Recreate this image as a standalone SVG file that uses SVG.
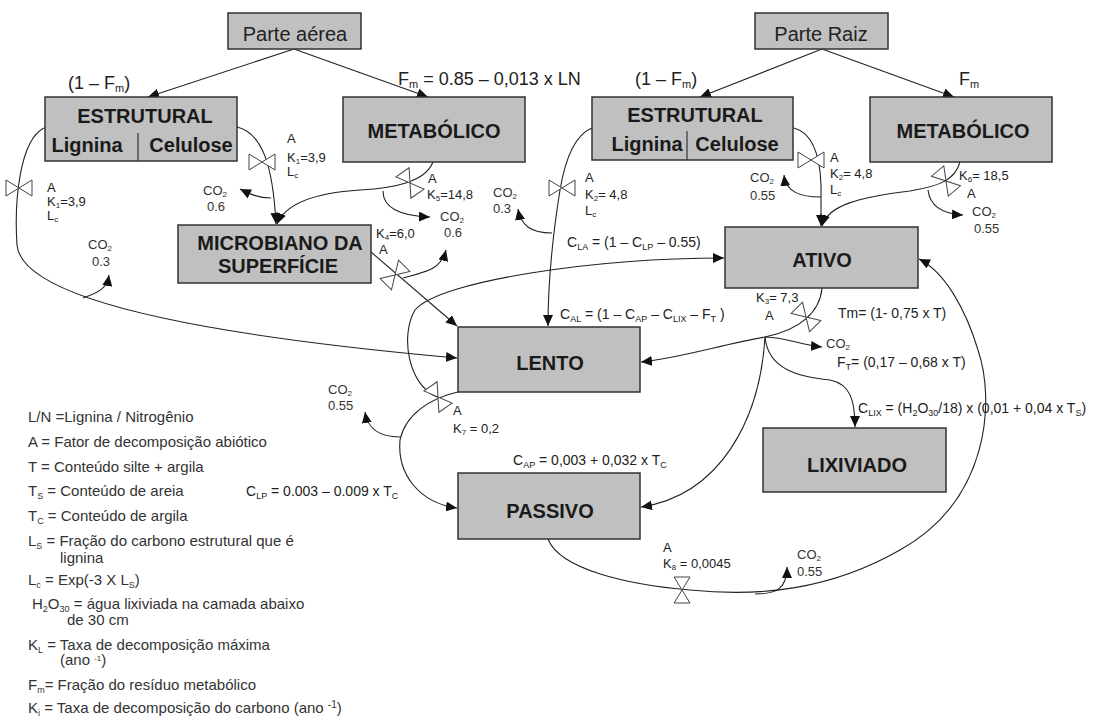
<svg xmlns="http://www.w3.org/2000/svg" xmlns:xlink="http://www.w3.org/1999/xlink" width="1115" height="727" viewBox="0 0 1115 727">
<style>
.box{fill:#c0c0c0;stroke:#333;stroke-width:1.5}
.ttl{font-family:"Liberation Sans",Arial,sans-serif;font-weight:bold;font-size:20px;fill:#1a1a1a;text-anchor:middle}
.src{font-family:"Liberation Sans",Arial,sans-serif;font-size:20px;fill:#222;text-anchor:middle}
.lbl{font-family:"Liberation Sans",Arial,sans-serif;font-size:14px;fill:#222}
.vk{font-family:"Liberation Sans",Arial,sans-serif;font-size:13px;fill:#222}
.big{font-family:"Liberation Sans",Arial,sans-serif;font-size:18px;fill:#222}
.co{font-family:"Liberation Sans",Arial,sans-serif;font-size:13px;fill:#333}
.leg{font-family:"Liberation Sans",Arial,sans-serif;font-size:15px;fill:#333}
.ln{fill:none;stroke:#222;stroke-width:1.1}
.arr{marker-end:url(#ah)}
.vl{fill:#fff;stroke:#444;stroke-width:1}
</style>
<defs>
<marker id="ah" markerUnits="userSpaceOnUse" markerWidth="12" markerHeight="10" refX="11" refY="5" orient="auto">
<path d="M0,0 L11,5 L0,10 z" fill="#111"/>
</marker>
<path id="valve" class="vl" d="M-13,-8 L13,8 L13,-8 L-13,8 Z"/>
</defs>
<rect width="1115" height="727" fill="#fff"/>

<g id="connectors">
<path class="ln arr" d="M294,49 L148,97"/>
<path class="ln arr" d="M294,49 L428,97"/>
<path class="ln arr" d="M822,49 L700,97"/>
<path class="ln arr" d="M822,49 L954,97"/>
<path class="ln arr" d="M44,128 C20,140 14,200 17,245 C22,300 200,335 457,358"/>
<path class="ln arr" d="M83,298 C100,292 107,288 109,275"/>
<path class="ln arr" d="M237,127 C262,133 273,165 276,224"/>
<path class="ln arr" d="M271,198 C258,198 250,194 240,189"/>
<path class="ln arr" d="M433,162 C425,182 395,188 360,190 C312,193 285,205 277,224"/>
<path class="ln arr" d="M383,191 C383,208 400,216 430,217"/>
<path class="ln arr" d="M371,252 L457,326"/>
<path class="ln arr" d="M403,278 C425,272 441,270 446,250"/>
<path class="ln arr" d="M592,128 C575,135 565,160 560,190 C552,240 548,290 548,326"/>
<path class="ln arr" d="M552,233 C530,233 521,225 518,209"/>
<path class="ln arr" d="M794,128 C812,133 820,155 821,185 L821,226"/>
<path class="ln arr" d="M821,197 C800,197 786,192 784,175"/>
<path class="ln arr" d="M960,162 C955,180 940,186 910,191 C860,197 828,205 822,226"/>
<path class="ln arr" d="M928,190 C930,208 945,214 963,215"/>
<path class="ln arr" d="M437,397 C408,385 400,335 415,310 C440,280 600,258 724,258"/>
<path class="ln arr" d="M458,392 C430,398 405,415 400,440 C397,475 420,503 457,508"/>
<path class="ln arr" d="M400,437 C380,437 368,430 365,412"/>
<path class="ln arr" d="M822,288 C820,312 800,330 765,337 C720,345 680,358 641,362"/>
<path class="ln arr" d="M765,337 C790,338 800,345 822,347"/>
<path class="ln arr" d="M765,337 C768,370 800,377 830,380 C850,384 855,400 855,427"/>
<path class="ln arr" d="M765,337 C760,420 720,495 641,507"/>
<path class="ln arr" d="M548,539 C560,570 630,585 690,590 C760,597 830,590 900,550 C990,500 995,400 978,350 C966,310 945,272 919,259"/>
<path class="ln arr" d="M755,594 C775,594 787,590 787,567"/>
</g>

<g id="valves">
<use xlink:href="#valve" href="#valve" transform="translate(19,188)"/>
<use xlink:href="#valve" href="#valve" transform="translate(262,162)"/>
<use xlink:href="#valve" href="#valve" transform="translate(410,183) rotate(55)"/>
<use xlink:href="#valve" href="#valve" transform="translate(395,275) rotate(-45)"/>
<use xlink:href="#valve" href="#valve" transform="translate(562,188)"/>
<use xlink:href="#valve" href="#valve" transform="translate(811,160)"/>
<use xlink:href="#valve" href="#valve" transform="translate(946,181) rotate(50)"/>
<use xlink:href="#valve" href="#valve" transform="translate(438,397) rotate(55)"/>
<use xlink:href="#valve" href="#valve" transform="translate(806,317) rotate(45)"/>
<use xlink:href="#valve" href="#valve" transform="translate(682,590) rotate(90)"/>
</g>

<g id="node-parte-aerea">
<rect class="box" x="228" y="13" width="133" height="36"/>
<text class="src" x="295" y="41">Parte aérea</text>
</g>
<g id="node-parte-raiz">
<rect class="box" x="755" y="13" width="133" height="36"/>
<text class="src" x="821" y="41">Parte Raiz</text>
</g>
<g id="node-estrutural-aereo">
<rect class="box" x="45" y="97" width="192" height="64"/>
<line x1="138" y1="133" x2="138" y2="161" stroke="#333" stroke-width="1.2"/>
<text class="ttl" x="145" y="123">ESTRUTURAL</text>
<text class="ttl" x="87" y="152">Lignina</text>
<text class="ttl" x="191" y="152">Celulose</text>
</g>
<g id="node-metabolico-aereo">
<rect class="box" x="343" y="97" width="182" height="65"/>
<text class="ttl" x="434" y="138">METABÓLICO</text>
</g>
<g id="node-estrutural-raiz">
<rect class="box" x="592" y="97" width="201" height="63"/>
<line x1="687" y1="131" x2="687" y2="160" stroke="#333" stroke-width="1.2"/>
<text class="ttl" x="695" y="122">ESTRUTURAL</text>
<text class="ttl" x="647" y="151">Lignina</text>
<text class="ttl" x="737" y="151">Celulose</text>
</g>
<g id="node-metabolico-raiz">
<rect class="box" x="870" y="97" width="182" height="65"/>
<text class="ttl" x="963" y="138">METABÓLICO</text>
</g>
<g id="node-microbiano">
<rect class="box" x="178" y="225" width="193" height="58"/>
<text class="ttl" x="280" y="250">MICROBIANO DA</text>
<text class="ttl" x="278" y="273">SUPERFÍCIE</text>
</g>
<g id="node-ativo">
<rect class="box" x="725" y="227" width="193" height="61"/>
<text class="ttl" x="822" y="267">ATIVO</text>
</g>
<g id="node-lento">
<rect class="box" x="458" y="327" width="182" height="65"/>
<text class="ttl" x="550" y="370">LENTO</text>
</g>
<g id="node-lixiviado">
<rect class="box" x="763" y="428" width="183" height="64"/>
<text class="ttl" x="857" y="472">LIXIVIADO</text>
</g>
<g id="node-passivo">
<rect class="box" x="458" y="473" width="182" height="66"/>
<text class="ttl" x="550" y="518">PASSIVO</text>
</g>

<g id="flow-labels">
<text class="big" x="68" y="89">(1 – F<tspan font-size="11" dy="3">m</tspan><tspan dy="-3">)</tspan></text>
<text class="big" x="398" y="85">F<tspan font-size="11" dy="3">m</tspan><tspan dy="-3"> = 0.85 – 0,013 x LN</tspan></text>
<text class="big" x="635" y="85">(1 – F<tspan font-size="11" dy="3">m</tspan><tspan dy="-3">)</tspan></text>
<text class="big" x="959" y="85">F<tspan font-size="11" dy="3">m</tspan></text>

<text class="vk" x="47" y="192">A</text>
<text class="vk" x="47" y="206">K<tspan font-size="8" dy="2">1</tspan><tspan dy="-2">=3,9</tspan></text>
<text class="vk" x="47" y="220">L<tspan font-size="8" dy="2">c</tspan></text>

<text class="vk" x="287" y="143">A</text>
<text class="vk" x="287" y="162">K<tspan font-size="8" dy="2">1</tspan><tspan dy="-2">=3,9</tspan></text>
<text class="vk" x="287" y="176">L<tspan font-size="8" dy="2">c</tspan></text>

<text class="vk" x="428" y="183">A</text>
<text class="vk" x="427" y="199">K<tspan font-size="8" dy="2">5</tspan><tspan dy="-2">=14,8</tspan></text>

<text class="vk" x="376" y="238">K<tspan font-size="8" dy="2">4</tspan><tspan dy="-2">=6,0</tspan></text>
<text class="vk" x="379" y="254">A</text>

<text class="vk" x="585" y="182">A</text>
<text class="vk" x="585" y="199">K<tspan font-size="8" dy="2">2</tspan><tspan dy="-2">= 4,8</tspan></text>
<text class="vk" x="585" y="215">L<tspan font-size="8" dy="2">c</tspan></text>

<text class="vk" x="830" y="162">A</text>
<text class="vk" x="830" y="178">K<tspan font-size="8" dy="2">2</tspan><tspan dy="-2">= 4,8</tspan></text>
<text class="vk" x="830" y="194">L<tspan font-size="8" dy="2">c</tspan></text>

<text class="vk" x="959" y="180">K<tspan font-size="8" dy="2">6</tspan><tspan dy="-2">= 18,5</tspan></text>
<text class="vk" x="967" y="198">A</text>

<text class="vk" x="453" y="415">A</text>
<text class="vk" x="453" y="433">K<tspan font-size="8" dy="2">7</tspan><tspan dy="-2"> = 0,2</tspan></text>

<text class="vk" x="756" y="302">K<tspan font-size="8" dy="2">3</tspan><tspan dy="-2">= 7,3</tspan></text>
<text class="vk" x="765" y="320">A</text>
<text class="lbl" x="838" y="318">Tm= (1- 0,75 x T)</text>

<text class="vk" x="663" y="552">A</text>
<text class="vk" x="663" y="568">K<tspan font-size="8" dy="2">8</tspan><tspan dy="-2"> = 0,0045</tspan></text>

<text class="lbl" x="567" y="247">C<tspan font-size="9" dy="3">LA</tspan><tspan dy="-3"> = (1 – C</tspan><tspan font-size="9" dy="3">LP</tspan><tspan dy="-3"> – 0.55)</tspan></text>
<text class="lbl" x="560" y="319">C<tspan font-size="9" dy="3">AL</tspan><tspan dy="-3"> = (1 – C</tspan><tspan font-size="9" dy="3">AP</tspan><tspan dy="-3"> – C</tspan><tspan font-size="9" dy="3">LIX</tspan><tspan dy="-3"> – F</tspan><tspan font-size="9" dy="3">T</tspan><tspan dy="-3"> )</tspan></text>
<text class="lbl" x="837" y="367">F<tspan font-size="9" dy="3">T</tspan><tspan dy="-3">= (0,17 – 0,68 x T)</tspan></text>
<text class="lbl" x="858" y="413">C<tspan font-size="9" dy="3">LIX</tspan><tspan dy="-3"> = (H</tspan><tspan font-size="9" dy="3">2</tspan><tspan dy="-3">O</tspan><tspan font-size="9" dy="3">30</tspan><tspan dy="-3">/18) x (0,01 + 0,04 x T</tspan><tspan font-size="9" dy="3">S</tspan><tspan dy="-3">)</tspan></text>
<text class="lbl" x="513" y="465">C<tspan font-size="9" dy="3">AP</tspan><tspan dy="-3"> = 0,003 + 0,032 x T</tspan><tspan font-size="9" dy="3">C</tspan></text>
<text class="lbl" x="246" y="496">C<tspan font-size="9" dy="3">LP</tspan><tspan dy="-3"> = 0.003 – 0.009 x T</tspan><tspan font-size="9" dy="3">C</tspan></text>

<text class="co" x="203" y="195">CO<tspan font-size="8" dy="2">2</tspan></text>
<text class="co" x="207" y="211">0.6</text>
<text class="co" x="88" y="249">CO<tspan font-size="8" dy="2">2</tspan></text>
<text class="co" x="92" y="266">0.3</text>
<text class="co" x="440" y="221">CO<tspan font-size="8" dy="2">2</tspan></text>
<text class="co" x="444" y="237">0.6</text>
<text class="co" x="493" y="197">CO<tspan font-size="8" dy="2">2</tspan></text>
<text class="co" x="493" y="213">0.3</text>
<text class="co" x="750" y="182">CO<tspan font-size="8" dy="2">2</tspan></text>
<text class="co" x="750" y="200">0.55</text>
<text class="co" x="972" y="216">CO<tspan font-size="8" dy="2">2</tspan></text>
<text class="co" x="974" y="233">0.55</text>
<text class="co" x="826" y="348">CO<tspan font-size="8" dy="2">2</tspan></text>
<text class="co" x="328" y="394">CO<tspan font-size="8" dy="2">2</tspan></text>
<text class="co" x="328" y="410">0.55</text>
<text class="co" x="797" y="559">CO<tspan font-size="8" dy="2">2</tspan></text>
<text class="co" x="797" y="576">0.55</text>
</g>

<g id="legend">
<text class="leg" x="28" y="422">L/N =Lignina / Nitrogênio</text>
<text class="leg" x="28" y="447">A = Fator de decomposição abiótico</text>
<text class="leg" x="28" y="472">T = Conteúdo silte + argila</text>
<text class="leg" x="28" y="496">T<tspan font-size="9" dy="3">S</tspan><tspan dy="-3"> = Conteúdo de areia</tspan></text>
<text class="leg" x="28" y="521">T<tspan font-size="9" dy="3">C</tspan><tspan dy="-3"> = Conteúdo de argila</tspan></text>
<text class="leg" x="28" y="546">L<tspan font-size="9" dy="3">S</tspan><tspan dy="-3"> = Fração do  carbono  estrutural que é</tspan></text>
<text class="leg" x="60" y="563">lignina</text>
<text class="leg" x="28" y="585">L<tspan font-size="9" dy="3">c</tspan><tspan dy="-3"> = Exp(-3 X L</tspan><tspan font-size="9" dy="3">S</tspan><tspan dy="-3">)</tspan></text>
<text class="leg" x="32" y="609">H<tspan font-size="9" dy="3">2</tspan><tspan dy="-3">O</tspan><tspan font-size="9" dy="3">30</tspan><tspan dy="-3"> = água lixiviada na camada abaixo</tspan></text>
<text class="leg" x="67" y="625">de 30 cm</text>
<text class="leg" x="28" y="650">K<tspan font-size="9" dy="3">L</tspan><tspan dy="-3"> = Taxa de decomposição máxima</tspan></text>
<text class="leg" x="60" y="665" font-size="10">(ano <tspan font-size="8" dy="-4">-1</tspan><tspan dy="4">)</tspan></text>
<text class="leg" x="28" y="690">F<tspan font-size="9" dy="3">m</tspan><tspan dy="-3">= Fração do resíduo metabólico</tspan></text>
<text class="leg" x="28" y="713">K<tspan font-size="9" dy="3">i</tspan><tspan dy="-3"> = Taxa de decomposição do carbono (ano </tspan><tspan font-size="10" dy="-5">-1</tspan><tspan dy="5">)</tspan></text>
</g>
</svg>
